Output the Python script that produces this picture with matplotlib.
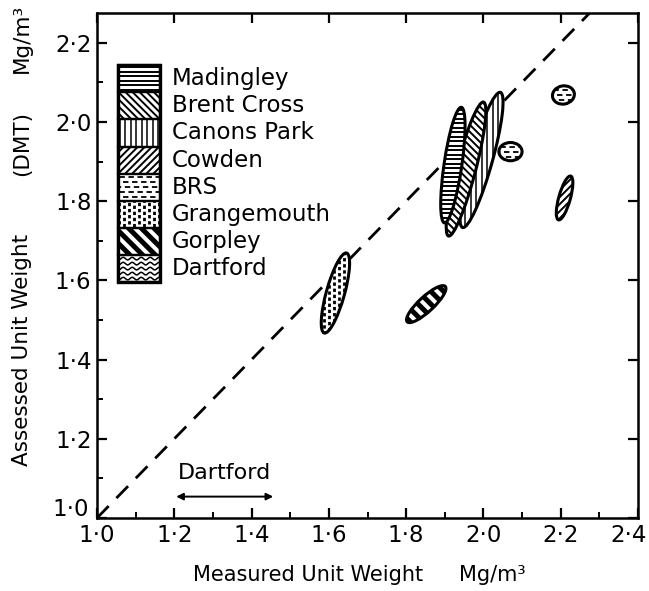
import numpy as np
import matplotlib
matplotlib.use("Agg")
import matplotlib.pyplot as plt
from matplotlib.patches import Ellipse, Polygon
from matplotlib.lines import Line2D
from matplotlib.transforms import IdentityTransform
from matplotlib.ticker import FuncFormatter, MultipleLocator

plt.rcParams['font.family'] = ['DejaVu Sans']

# ---------------------------------------------------------------------------
# data
# ---------------------------------------------------------------------------
legend_sites = ['Madingley', 'Brent Cross', 'Canons Park', 'Cowden',
                'BRS', 'Grangemouth', 'Gorpley', 'Dartford']

# one ellipse per site range (BRS has two)
ell_site = ['Canons Park', 'Brent Cross', 'Madingley', 'BRS', 'BRS',
            'Cowden', 'Grangemouth', 'Gorpley']
ell_x = [1.995, 1.955, 1.921, 2.070, 2.207, 2.210, 1.617, 1.852]   # measured
ell_y = [1.904, 1.881, 1.891, 1.925, 2.068, 1.808, 1.568, 1.540]   # assessed
ell_len = [0.355, 0.350, 0.295, 0.060, 0.057, 0.115, 0.210, 0.133]
ell_wid = [0.056, 0.050, 0.046, 0.046, 0.046, 0.030, 0.047, 0.038]
ell_ang = [74, 75, 81.5, 0, 10, 74, 74, 42]

dartford_range = [1.205, 1.456]
dartford_y = 1.054

# hatch styles: angle, step(px), lw, linestyle, wave amplitude
PATTERNS = {
    'Madingley':   dict(angle=0,   step=4.5, lw=1.4, ls='-'),
    'Brent Cross': dict(angle=-45, step=5.0, lw=1.4, ls='-'),
    'Canons Park': dict(angle=90,  step=5.5, lw=1.1, ls='-'),
    'Cowden':      dict(angle=45,  step=5.0, lw=1.4, ls='-'),
    'BRS':         dict(angle=0,   step=5.0, lw=1.3, ls='dash'),
    'Grangemouth': dict(angle=90,  step=5.0, lw=2.0, ls='dot'),
    'Gorpley':     dict(angle=-45, step=9.0, lw=3.6, ls='-'),
    'Dartford':    dict(angle=0,   step=5.0, lw=1.1, ls='-', wave=1.3),
}


def fill_pattern(ax, patch, kind, zorder):
    spec = PATTERNS[kind]
    bb = patch.get_extents()
    cx, cy = (bb.x0 + bb.x1) / 2, (bb.y0 + bb.y1) / 2
    r = max(bb.width, bb.height) / 2 + 4
    a = np.radians(spec['angle'])
    d = np.array([np.cos(a), np.sin(a)])
    n = np.array([-d[1], d[0]])
    t = np.linspace(-r, r, 300)
    wave = spec.get('wave', 0) * np.sin(t * 2 * np.pi / 9)
    for k, off in enumerate(np.arange(-r, r, spec['step'])):
        xs = cx + t * d[0] + (off + wave) * n[0]
        ys = cy + t * d[1] + (off + wave) * n[1]
        if spec['ls'] == 'dash':
            ls = ((k % 3) * 2.0, (3.0, 2.0))
        elif spec['ls'] == 'dot':
            ls = ((k % 2) * 1.2, (1.2, 1.0))
        else:
            ls = '-'
        ln = Line2D(xs, ys, transform=IdentityTransform(), color='k',
                    lw=spec['lw'], linestyle=ls, solid_capstyle='butt',
                    zorder=zorder)
        ax.add_artist(ln)
        ln.set_clip_path(patch)


def dot_label(v, pos=None):
    return f"{v:.1f}".replace('.', '\u00b7')


fig = plt.figure(figsize=(6.49, 5.91), dpi=100)
ax = fig.add_axes([97 / 649, 1 - 518 / 591, 541 / 649, 505 / 591])
ax.set_xlim(1.0, 2.4)
ax.set_ylim(1.0, 2.275)

ax.xaxis.set_major_locator(MultipleLocator(0.2))
ax.xaxis.set_minor_locator(MultipleLocator(0.1))
ax.yaxis.set_major_locator(MultipleLocator(0.2))
ax.yaxis.set_minor_locator(MultipleLocator(0.1))
# end labels (1.0 on y, 2.4 on x) are placed by hand so they stay clear / on the canvas
ax.xaxis.set_major_formatter(FuncFormatter(lambda v, p: '' if abs(v - 2.4) < 1e-6 else dot_label(v)))
ax.yaxis.set_major_formatter(FuncFormatter(lambda v, p: '' if abs(v - 1.0) < 1e-6 else dot_label(v)))
ax.tick_params(which='major', direction='in', length=7, width=1.6,
               labelsize=16.5, top=True, right=True, pad=4)
ax.tick_params(which='minor', direction='in', length=4, width=1.4)
for s in ax.spines.values():
    s.set_linewidth(1.8)
ax.annotate(dot_label(1.0), xy=(0, 0), xycoords='axes fraction',
            xytext=(-5.5, 6), textcoords='offset points', ha='right',
            va='center', fontsize=16.5)
ax.annotate(dot_label(2.4), xy=(1, 0), xycoords='axes fraction',
            xytext=(6.5, -4.5), textcoords='offset points', ha='right',
            va='top', fontsize=16.5)

# 1:1 line
ax.plot([1.0, 2.4], [1.0, 2.4], color='k', lw=2, ls=(0, (6, 4)), zorder=1)

# site ellipses
for i, site in enumerate(ell_site):
    z = 2 + i
    base = Ellipse((ell_x[i], ell_y[i]), ell_len[i], ell_wid[i], angle=ell_ang[i],
                   facecolor='white', edgecolor='none', zorder=z)
    ax.add_patch(base)
    fill_pattern(ax, base, site, z + 0.1)
    ax.add_patch(Ellipse((ell_x[i], ell_y[i]), ell_len[i], ell_wid[i],
                         angle=ell_ang[i], facecolor='none', edgecolor='k',
                         lw=2.2, zorder=z + 0.2))

# Dartford range
ax.annotate('', xy=(dartford_range[1], dartford_y), xytext=(dartford_range[0], dartford_y),
            arrowprops=dict(arrowstyle='<|-|>', color='k', lw=1.4,
                            mutation_scale=10, shrinkA=0, shrinkB=0))
ax.text(np.mean(dartford_range), dartford_y + 0.035, 'Dartford', ha='center',
        va='bottom', fontsize=16)

# legend drawn as stacked hatched boxes
lx0, lx1 = 0.039, 0.116
ly_top, cell = 0.897, 0.0538


def cell_poly(y0, h, **kw):
    pts = [(lx0, y0), (lx1, y0), (lx1, y0 + h), (lx0, y0 + h)]
    return Polygon(pts, closed=True, transform=ax.transAxes, **kw)


for i, site in enumerate(legend_sites):
    y0 = ly_top - (i + 1) * cell
    box = cell_poly(y0, cell, facecolor='white', edgecolor='none', zorder=20)
    ax.add_patch(box)
    fill_pattern(ax, box, site, 20.1)
    ax.add_patch(cell_poly(y0, cell, facecolor='none', edgecolor='k', lw=1.6, zorder=20.2))
    ax.text(0.139, y0 + cell / 2, site, transform=ax.transAxes, ha='left',
            va='center', fontsize=16.5, zorder=21)
ax.add_patch(cell_poly(ly_top - 8 * cell, 8 * cell, facecolor='none',
                       edgecolor='k', lw=2.4, zorder=20.3))

# axis titles
fig.text(0.474, 0.027, 'Measured Unit Weight', ha='center', va='center', fontsize=15)
fig.text(0.758, 0.027, 'Mg/m\u00b3', ha='center', va='center', fontsize=15)
fig.text(0.034, 0.408, 'Assessed Unit Weight', rotation=90, ha='center', va='center', fontsize=15.5)
fig.text(0.034, 0.758, '(DMT)', rotation=90, ha='center', va='center', fontsize=15.5)
fig.text(0.034, 0.935, 'Mg/m\u00b3', rotation=90, ha='center', va='center', fontsize=15.5)

fig.savefig('out.png', dpi=100)
